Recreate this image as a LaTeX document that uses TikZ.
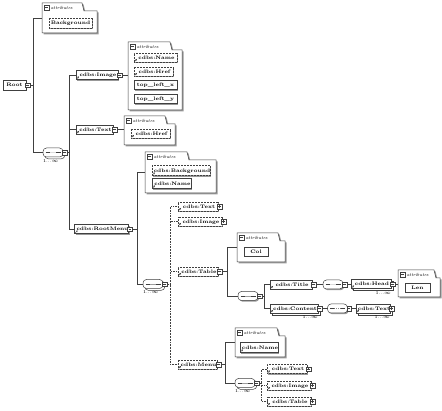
\documentclass[tikz,border=0pt]{standalone}
\usetikzlibrary{arrows.meta,shadows,positioning,calc}

% attribute container: name, x1, y1, x2, y2, right end of the tab
\newcommand\attrbox[6]{%
  \node[minimum width={#4-#2}, minimum height={#5-#3}] (#1) at ({(#2+#4)/2},{(#3+#5)/2}) {};
  \fill[black!40] ({#2+1.5},{#3+1.5}) -- ({#6+1.5},{#3+1.5}) -- ({#6+3.5},{#3+9.5}) -- ({#4+1.5},{#3+9.5}) -- ({#4+1.5},{#5+1.5}) -- ({#2+1.5},{#5+1.5}) -- cycle;
  \filldraw[fill=white, draw=black!75, line width=0.5pt] (#2,#3) -- (#6,#3) -- ({#6+2},{#3+8}) -- (#4,{#3+8}) -- (#4,#5) -- (#2,#5) -- cycle;
  \node[minus] (#1-m) at ({#2+4.5},{#3+4.5}) {};
  \node[attlbl, anchor=west] (#1-l) at ([xshift=2pt]#1-m.east) {attributes};
}

\begin{document}
\begin{tikzpicture}[x=1pt,y=-1pt,
    every node/.style={font=\fontsize{5}{6}\selectfont\bfseries, inner sep=0pt, outer sep=0pt},
    elem/.style={draw=black!75, line width=0.5pt, fill=white, minimum height=9,
      drop shadow={shadow xshift=1.2pt,shadow yshift=-1.2pt,fill=black!40,opacity=1}},
    opt/.style={elem, densely dotted},
    ref/.style={text depth=0pt, path picture={\draw[solid,line width=0.4pt,-{Stealth[length=1.6pt,width=1.8pt]}]
      ([shift={(0.6pt,0.6pt)}]path picture bounding box.south west) -- ++(2.4pt,2.4pt);}},
    multi/.style={copy shadow={shadow xshift=1.8pt,shadow yshift=-1.8pt,draw=black!75,fill=white}},
    tog/.style={draw=black!75, line width=0.4pt, fill=white, solid, minimum size=4.5},
    minus/.style={tog, path picture={\draw[line width=0.4pt] ([xshift=0.9pt]path picture bounding box.west)
      -- ([xshift=-0.9pt]path picture bounding box.east);}},
    plus/.style={tog, path picture={\draw[line width=0.4pt] ([xshift=0.9pt]path picture bounding box.west)
      -- ([xshift=-0.9pt]path picture bounding box.east)
      ([yshift=-0.9pt]path picture bounding box.north) -- ([yshift=0.9pt]path picture bounding box.south);}},
    seq/.style={draw=black!75, line width=0.5pt, fill=white, rounded corners=3.5pt, minimum width=20, minimum height=9,
      drop shadow={shadow xshift=1.2pt,shadow yshift=-1.2pt,fill=black!40,opacity=1},
      path picture={\draw[line width=0.4pt] ([xshift=2.5pt]path picture bounding box.west)
        -- ([xshift=-2.5pt]path picture bounding box.east);
        \foreach \d in {-2,0,2} \fill ([xshift=\d pt]path picture bounding box.center) circle (0.8pt);}},
    attlbl/.style={font=\fontsize{4.5}{5}\selectfont\itshape},
    card/.style={font=\fontsize{4.5}{5}\selectfont},
    conn/.style={draw=black!75, line width=0.55pt},
    optconn/.style={conn, densely dotted}]
  \fill[white] (0,0) rectangle (442,411);
  \useasboundingbox (0,0) rectangle (442,411);

  % Root
  \node[elem, minimum width=23, minimum height=10] (root) at (14.5,85) {Root};
  \node[minus] (root-t) at ([xshift=1.5pt]root.east) {};
  \attrbox{rootattr}{42}{3}{97}{33}{82}
  \node[opt, minimum width=43, minimum height=10] (bg) at (70.5,23) {Background};
  \node[seq, multi] (seq1) at (53,152.5) {};
  \node[minus] (seq1-t) at ([xshift=1.5pt]seq1.east) {};
  \node[card, anchor=north west] (seq1-c) at ([yshift=-2.5pt]seq1.south west) {1...$\infty$};

  % cdbs:Image
  \node[elem, ref, minimum width=42] (img) at (97,75) {\hspace{2pt}cdbs:Image};
  \node[minus] (img-t) at ([xshift=1.5pt]img.east) {};
  \attrbox{imgattr}{128}{42}{182}{110}{170}
  \node[opt, ref, minimum width=43] (img-nm) at (155.5,57.5) {\hspace{2pt}cdbs:Name};
  \node[opt, ref, minimum width=39] (img-hr) at (153.5,71.5) {\hspace{2pt}cdbs:Href};
  \node[elem, minimum width=43] (img-x) at (155.5,85) {top\_left\_x};
  \node[elem, minimum width=43] (img-y) at (155.5,99) {top\_left\_y};

  % cdbs:Text
  \node[elem, ref, minimum width=37] (txt) at (94.5,129.5) {\hspace{2pt}cdbs:Text};
  \node[minus] (txt-t) at ([xshift=1.5pt]txt.east) {};
  \attrbox{txtattr}{124}{116}{175}{145}{165}
  \node[opt, ref, minimum width=39] (txt-hr) at (150.5,133.5) {\hspace{2pt}cdbs:Href};

  % cdbs:RootMenu
  \node[elem, ref, minimum width=51] (rmenu) at (101.5,229) {\hspace{2pt}cdbs:RootMenu};
  \node[minus] (rmenu-t) at ([xshift=1.5pt]rmenu.east) {};
  \attrbox{rmattr}{145}{152}{216}{193}{187}
  \node[opt, ref, minimum width=58, minimum height=10] (rm-bg) at (181,170.5) {\hspace{2pt}cdbs:Background};
  \node[elem, ref, minimum width=39, minimum height=10] (rm-nm) at (171.5,183.5) {\hspace{2pt}cdbs:Name};
  \node[seq, multi] (seq2) at (153,284) {};
  \node[minus] (seq2-t) at ([xshift=1.5pt]seq2.east) {};
  \node[card, anchor=north west] (seq2-c) at ([yshift=-2.5pt]seq2.south west) {1...$\infty$};
  \node[opt, ref, minimum width=40] (rm-txt) at (198,206.5) {\hspace{2pt}cdbs:Text};
  \node[plus] (rm-txt-t) at ([xshift=1.5pt]rm-txt.east) {};
  \node[opt, ref, minimum width=44] (rm-img) at (200,221.5) {\hspace{2pt}cdbs:Image};
  \node[plus] (rm-img-t) at ([xshift=1.5pt]rm-img.east) {};

  % cdbs:Table
  \node[opt, ref, minimum width=40] (tbl) at (198,271.5) {\hspace{2pt}cdbs:Table};
  \node[minus] (tbl-t) at ([xshift=1.5pt]tbl.east) {};
  \attrbox{tblattr}{237}{233}{285}{262}{278}
  \node[elem, minimum width=24] (col) at (256,251.5) {Col};
  \node[seq] (seq3) at (248,296) {};
  \node[minus] (seq3-t) at ([xshift=1.5pt]seq3.east) {};
  \node[elem, ref, minimum width=42] (title) at (291,284.5) {\hspace{2pt}cdbs:Title};
  \node[minus] (title-t) at ([xshift=1.5pt]title.east) {};
  \node[seq] (seq4) at (333,284.5) {};
  \node[minus] (seq4-t) at ([xshift=1.5pt]seq4.east) {};
  \node[elem, ref, multi, minimum width=40] (head) at (371,284) {\hspace{2pt}cdbs:Head};
  \node[minus] (head-t) at ([xshift=1.5pt]head.east) {};
  \node[card, anchor=north east] (head-c) at ([yshift=-3pt]head.south east) {1...$\infty$};
  \attrbox{headattr}{398}{270}{440}{297}{434}
  \node[elem, minimum width=25] (len) at (417.5,287.5) {Len};
  \node[elem, ref, multi, minimum width=48] (cont) at (294,308.5) {\hspace{2pt}cdbs:Content};
  \node[minus] (cont-t) at ([xshift=1.5pt]cont.east) {};
  \node[card, anchor=north east] (cont-c) at ([yshift=-3pt]cont.south east) {1...$\infty$};
  \node[seq] (seq5) at (337.5,308.5) {};
  \node[minus] (seq5-t) at ([xshift=1.5pt]seq5.east) {};
  \node[elem, ref, multi, minimum width=34] (ctxt) at (373,308.5) {\hspace{2pt}cdbs:Text};
  \node[plus] (ctxt-t) at ([xshift=1.5pt]ctxt.east) {};
  \node[card, anchor=north east] (ctxt-c) at ([yshift=-3pt]ctxt.south east) {1...$\infty$};

  % cdbs:Menu
  \node[opt, ref, minimum width=39] (menu) at (197.5,364.5) {\hspace{2pt}cdbs:Menu};
  \node[minus] (menu-t) at ([xshift=1.5pt]menu.east) {};
  \attrbox{menuattr}{235}{328}{285}{357}{277}
  \node[elem, ref, minimum width=36, minimum height=10] (mn-nm) at (259,347.5) {\hspace{2pt}cdbs:Name};
  \node[seq, multi] (seq6) at (245,383) {};
  \node[minus] (seq6-t) at ([xshift=1.5pt]seq6.east) {};
  \node[card, anchor=north west] (seq6-c) at ([yshift=-2.5pt]seq6.south west) {1...$\infty$};
  \node[opt, ref, minimum width=40] (mn-txt) at (287,369) {\hspace{2pt}cdbs:Text};
  \node[plus] (mn-txt-t) at ([xshift=1.5pt]mn-txt.east) {};
  \node[opt, ref, minimum width=44] (mn-img) at (289,385.5) {\hspace{2pt}cdbs:Image};
  \node[plus] (mn-img-t) at ([xshift=1.5pt]mn-img.east) {};
  \node[opt, ref, minimum width=44] (mn-tbl) at (289,401.5) {\hspace{2pt}cdbs:Table};
  \node[plus] (mn-tbl-t) at ([xshift=1.5pt]mn-tbl.east) {};

  % connectors
  \draw[conn] (root-t.east) -- ++(4,0) |- (rootattr.west);
  \draw[conn] (root-t.east) -- ++(4,0) |- (seq1.west);
  \foreach \c in {img,txt,rmenu}
    \draw[conn] (seq1-t.east) -- ++(2.5,0) |- (\c.west);
  \draw[conn] (img-t.east) -- (img-t.east -| imgattr.west);
  \draw[conn] (txt-t.east) -- (txt-t.east -| txtattr.west);
  \draw[conn] (rmenu-t.east) -- ++(5,0) |- (rmattr.west);
  \draw[conn] (rmenu-t.east) -- ++(5,0) |- (seq2.west);
  \foreach \c in {rm-txt,rm-img,tbl,menu}
    \draw[optconn] (seq2-t.east) -- ++(4,0) |- (\c.west);
  \draw[conn] (tbl-t.east) -- ++(6,0) |- (tblattr.west);
  \draw[conn] (tbl-t.east) -- ++(6,0) |- (seq3.west);
  \draw[conn] (seq3-t.east) -- ++(2.5,0) |- (title.west);
  \draw[conn] (seq3-t.east) -- ++(2.5,0) |- (cont.west);
  \draw[conn] (title-t.east) -- (title-t.east -| seq4.west);
  \draw[conn] (seq4-t.east) -- (seq4-t.east -| head.west);
  \draw[conn] (head-t.east) -- (head-t.east -| headattr.west);
  \draw[conn] (cont-t.east) -- (cont-t.east -| seq5.west);
  \draw[conn] (seq5-t.east) -- (seq5-t.east -| ctxt.west);
  \draw[conn] (menu-t.east) -- ++(5,0) |- (menuattr.west);
  \draw[conn] (menu-t.east) -- ++(5,0) |- (seq6.west);
  \foreach \c in {mn-txt,mn-img,mn-tbl}
    \draw[optconn] (seq6-t.east) -- ++(3,0) |- (\c.west);
\end{tikzpicture}
\end{document}
